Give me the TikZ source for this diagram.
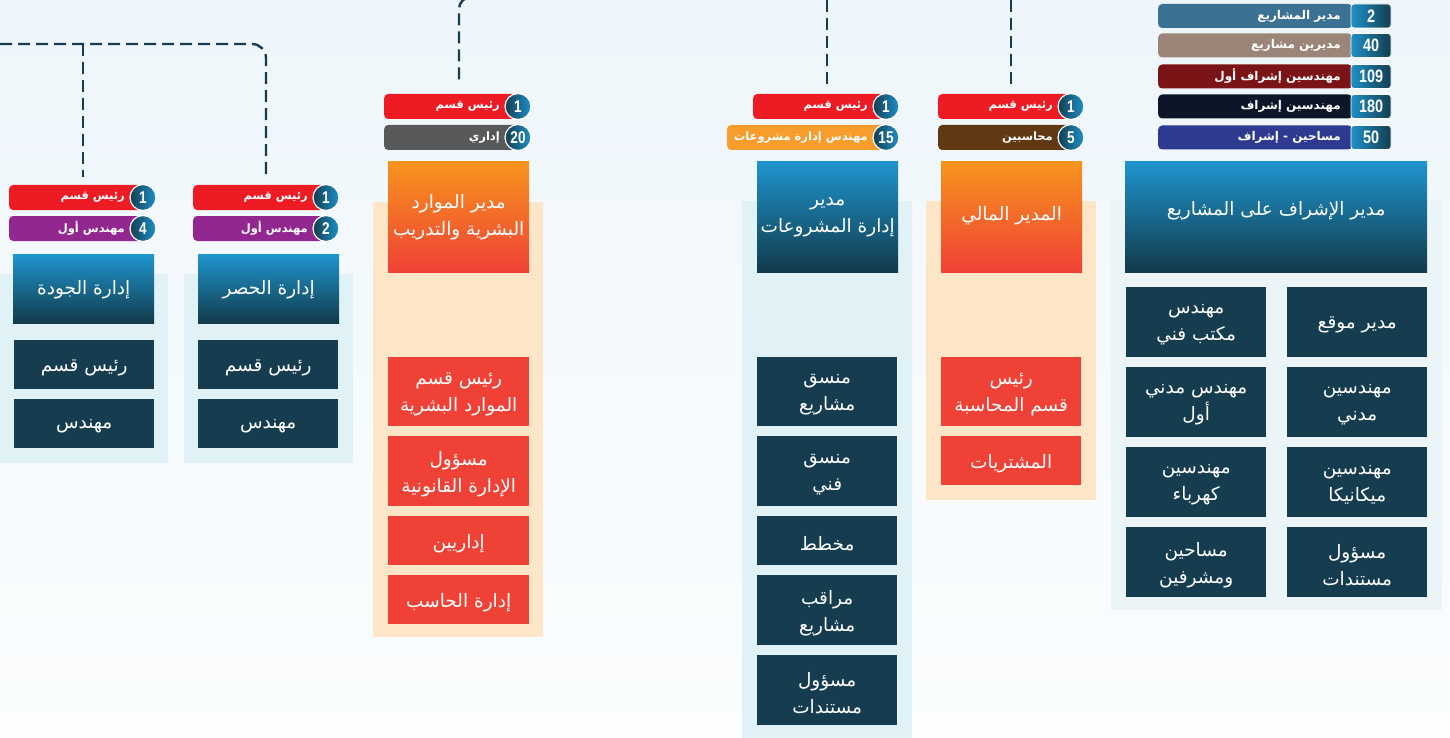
\documentclass[tikz,border=0pt]{standalone}
\usepackage{fontspec}
\setmainfont{DejaVu Sans}
\newfontfamily\arabicfont[Script=Arabic]{DejaVu Sans}
\newfontfamily\numfont[FakeStretch=0.8]{Liberation Sans}
\TeXXeTstate=1
\definecolor{bgtop}{HTML}{EEF6FB}
\definecolor{bgbot}{HTML}{FBFDFE}
\definecolor{panelb}{HTML}{E1F2F7}
\definecolor{panelr}{HTML}{EBF4F7}
\definecolor{peach}{HTML}{FDE5C8}
\definecolor{dark}{HTML}{163D4F}
\definecolor{boxred}{HTML}{EF4136}
\definecolor{hb1}{HTML}{1F95CF}
\definecolor{hb2}{HTML}{166C92}
\definecolor{hb3}{HTML}{123A4A}
\definecolor{ho1}{HTML}{F7941D}
\definecolor{ho2}{HTML}{EF4136}
\definecolor{clight}{HTML}{1E90C8}
\definecolor{cdark}{HTML}{143E50}
\definecolor{tred}{HTML}{ED1C24}
\definecolor{tpurple}{HTML}{92278F}
\definecolor{tgray}{HTML}{58595B}
\definecolor{torange}{HTML}{F89C2C}
\definecolor{tbrown}{HTML}{603913}
\definecolor{lg1}{HTML}{3B7192}
\definecolor{lg2}{HTML}{9B8579}
\definecolor{lg3}{HTML}{7B1416}
\definecolor{lg4}{HTML}{0D1628}
\definecolor{lg5}{HTML}{2E3A8F}
\tikzset{
  hdrblue/.style={rectangle, inner sep=0pt, top color=hb1, middle color=hb2, bottom color=hb3},
  hdrorange/.style={rectangle, inner sep=0pt, top color=ho1, bottom color=ho2},
  hdrtxt/.style={text=white, inner sep=0pt, align=center, font=\arabicfont\fontsize{18.5}{27}\selectfont},
  darkbox/.style={rectangle, inner sep=0pt, fill=dark},
  redbox/.style={rectangle, inner sep=0pt, fill=boxred},
  boxtxt/.style={text=white, inner sep=0pt, align=center, font=\arabicfont\fontsize{18.5}{27}\selectfont},
  tagbar/.style={rectangle, rounded corners=4pt, inner sep=0pt, minimum height=25pt, anchor=west},
  tagtxt/.style={text=white, inner sep=0pt, anchor=east, font=\arabicfont\bfseries\fontsize{11.5}{12}\selectfont},
  numcirc/.style={circle, inner sep=0pt, minimum size=26pt, left color=cdark, right color=clight, draw=white, line width=1.2pt, text=white, font=\numfont\bfseries\fontsize{17}{17}\selectfont},
  legbar/.style={rectangle, rounded corners=4pt, inner sep=0pt, minimum height=24pt, anchor=west},
  legnum/.style={rectangle, rounded corners=3pt, inner sep=0pt, minimum width=40pt, minimum height=24pt, left color=clight, right color=cdark, draw=white, line width=0.8pt, text=white, font=\numfont\bfseries\fontsize{18}{18}\selectfont},
  conn/.style={draw=dark, line width=2.4pt, dash pattern=on 12pt off 6pt},
}
% box: name, style, x1, y1, x2, y2, text
\newcommand\mkbox[7]{%
  \node[#2, minimum width=#5-#3, minimum height=#6-#4, anchor=north west] (#1) at (#3,#4) {};
  \node[boxtxt] (#1t) at ([yshift=-3]#1.center) {#7};}
\newcommand\mkhdr[8]{%
  \node[#2, minimum width=#5-#3, minimum height=#6-#4, anchor=north west] (#1) at (#3,#4) {};
  \node[hdrtxt] (#1t) at ([yshift=#8]#1.center) {#7};}
\newcommand\mktag[7]{%
  \node[tagbar, fill=#5, minimum width=#3-#2] (#1b) at (#2,#4+12.5) {};
  \node[tagtxt] (#1t) at (#3-18,#4+12.5) {#6};
  \node[numcirc] (#1n) at (#3,#4+12.5) {#7};}
\newcommand\mkleg[5]{%
  \node[legbar, fill=#3, minimum width=194] (#1b) at (1158,#2) {};
  \node[tagtxt, font=\arabicfont\bfseries\fontsize{12}{12}\selectfont] (#1t) at (1341,#2) {#4};
  \node[legnum] (#1n) at (1371,#2) {#5};}
\begin{document}
\begin{tikzpicture}[x=1pt,y=-1pt]
\useasboundingbox (0,0) rectangle (1450,738);
\fill[top color=bgtop, bottom color=bgbot] (0,0) rectangle (1450,738);

% panels
\fill[panelb] (0,274) rectangle (168,463);
\fill[panelb] (184,274) rectangle (353,463);
\fill[peach] (373,202) rectangle (543,637);
\fill[panelb] (742,201) rectangle (912,745);
\fill[peach] (926,201) rectangle (1096,500);
\fill[panelr] (1111,200) rectangle (1442,610);

% legend
\mkleg{l1}{16}{lg1}{\beginR مدير المشاريع\endR}{2}
\mkleg{l2}{45.5}{lg2}{\beginR مديرين مشاريع\endR}{40}
\mkleg{l3}{76.5}{lg3}{\beginR مهندسين إشراف أول\endR}{109}
\mkleg{l4}{106.5}{lg4}{\beginR مهندسين إشراف\endR}{180}
\mkleg{l5}{137.5}{lg5}{\beginR مساحين - إشراف\endR}{50}

% quality
\mktag{q1}{9}{143}{185}{tred}{\beginR رئيس قسم\endR}{1}
\mktag{q2}{9}{143}{216}{tpurple}{\beginR مهندس أول\endR}{4}
\mkhdr{qh}{hdrblue}{13}{254}{154}{323}{\beginR إدارة الجودة\endR}{-1}
\mkbox{qs1}{darkbox}{14}{340}{154}{389}{\beginR رئيس قسم\endR}
\mkbox{qs2}{darkbox}{14}{399}{154}{448}{\beginR مهندس\endR}

% hasr
\mktag{h1}{193}{326}{185}{tred}{\beginR رئيس قسم\endR}{1}
\mktag{h2}{193}{326}{216}{tpurple}{\beginR مهندس أول\endR}{2}
\mkhdr{hh}{hdrblue}{198}{254}{339}{323}{\beginR إدارة الحصر\endR}{-1}
\mkbox{hs1}{darkbox}{198}{340}{338}{389}{\beginR رئيس قسم\endR}
\mkbox{hs2}{darkbox}{198}{399}{338}{448}{\beginR مهندس\endR}

% HR
\mktag{r1}{384}{518}{94}{tred}{\beginR رئيس قسم\endR}{1}
\mktag{r2}{384}{518}{125}{tgray}{\beginR إداري\endR}{20}
\mkhdr{rh}{hdrorange}{388}{161}{529}{272}{\beginR مدير الموارد\endR\\\beginR البشرية والتدريب\endR}{-1}
\mkbox{rs1}{redbox}{388}{357}{529}{426}{\beginR رئيس قسم\endR\\\beginR الموارد البشرية\endR}
\mkbox{rs2}{redbox}{388}{436}{529}{506}{\beginR مسؤول\endR\\\beginR الإدارة القانونية\endR}
\mkbox{rs3}{redbox}{388}{516}{529}{565}{\beginR إداريين\endR}
\mkbox{rs4}{redbox}{388}{575}{529}{624}{\beginR إدارة الحاسب\endR}

% PM
\mktag{p1}{753}{886}{94}{tred}{\beginR رئيس قسم\endR}{1}
\mktag{p2}{727}{886}{125}{torange}{\beginR مهندس إدارة مشروعات\endR}{15}
\mkhdr{ph}{hdrblue}{757}{161}{898}{272}{\beginR مدير\endR\\\beginR إدارة المشروعات\endR}{-1}
\mkbox{ps1}{darkbox}{757}{357}{897}{426}{\beginR منسق\endR\\\beginR مشاريع\endR}
\mkbox{ps2}{darkbox}{757}{436}{897}{506}{\beginR منسق\endR\\\beginR فني\endR}
\mkbox{ps3}{darkbox}{757}{516}{897}{565}{\beginR مخطط\endR}
\mkbox{ps4}{darkbox}{757}{575}{897}{645}{\beginR مراقب\endR\\\beginR مشاريع\endR}
\mkbox{ps5}{darkbox}{757}{655}{897}{725}{\beginR مسؤول\endR\\\beginR مستندات\endR}

% finance
\mktag{f1}{938}{1071}{94}{tred}{\beginR رئيس قسم\endR}{1}
\mktag{f2}{938}{1071}{125}{tbrown}{\beginR محاسبين\endR}{5}
\mkhdr{fh}{hdrorange}{941}{161}{1082}{272}{\beginR المدير المالي\endR}{1}
\mkbox{fs1}{redbox}{941}{357}{1081}{426}{\beginR رئيس\endR\\\beginR قسم المحاسبة\endR}
\mkbox{fs2}{redbox}{941}{436}{1081}{485}{\beginR المشتريات\endR}

% supervision
\mkhdr{sh}{hdrblue}{1125}{161}{1427}{272}{\beginR مدير الإشراف على المشاريع\endR}{6}
\mkbox{sa1}{darkbox}{1287}{287}{1427}{357}{\beginR مدير موقع\endR}
\mkbox{sa2}{darkbox}{1287}{367}{1427}{437}{\beginR مهندسين\endR\\\beginR مدني\endR}
\mkbox{sa3}{darkbox}{1287}{447}{1427}{517}{\beginR مهندسين\endR\\\beginR ميكانيكا\endR}
\mkbox{sa4}{darkbox}{1287}{527}{1427}{597}{\beginR مسؤول\endR\\\beginR مستندات\endR}
\mkbox{sb1}{darkbox}{1126}{287}{1266}{357}{\beginR مهندس\endR\\\beginR مكتب فني\endR}
\mkbox{sb2}{darkbox}{1126}{367}{1266}{437}{\beginR مهندس مدني\endR\\\beginR أول\endR}
\mkbox{sb3}{darkbox}{1126}{447}{1266}{517}{\beginR مهندسين\endR\\\beginR كهرباء\endR}
\mkbox{sb4}{darkbox}{1126}{527}{1266}{597}{\beginR مساحين\endR\\\beginR ومشرفين\endR}

% connectors
\coordinate (cl0) at (0,44);
\coordinate (cqt) at (83,44);
\coordinate (cqe) at (83,177);
\coordinate (che) at (266,177);
\coordinate (cr0) at (520,-3);
\coordinate (cre) at (459,85);
\coordinate (cp0) at (827,0);
\coordinate (cpe) at (827,85);
\coordinate (cf0) at (1011,0);
\coordinate (cfe) at (1011,85);
\draw[conn, rounded corners=14pt] (cl0) -- (cl0 -| che) -- (che);
\draw[conn] (cqt) -- (cqe);
\draw[conn, rounded corners=12pt] (cr0) -- (cr0 -| cre) -- (cre);
\draw[conn] (cp0) -- (cpe);
\draw[conn] (cf0) -- (cfe);
\end{tikzpicture}
\end{document}
